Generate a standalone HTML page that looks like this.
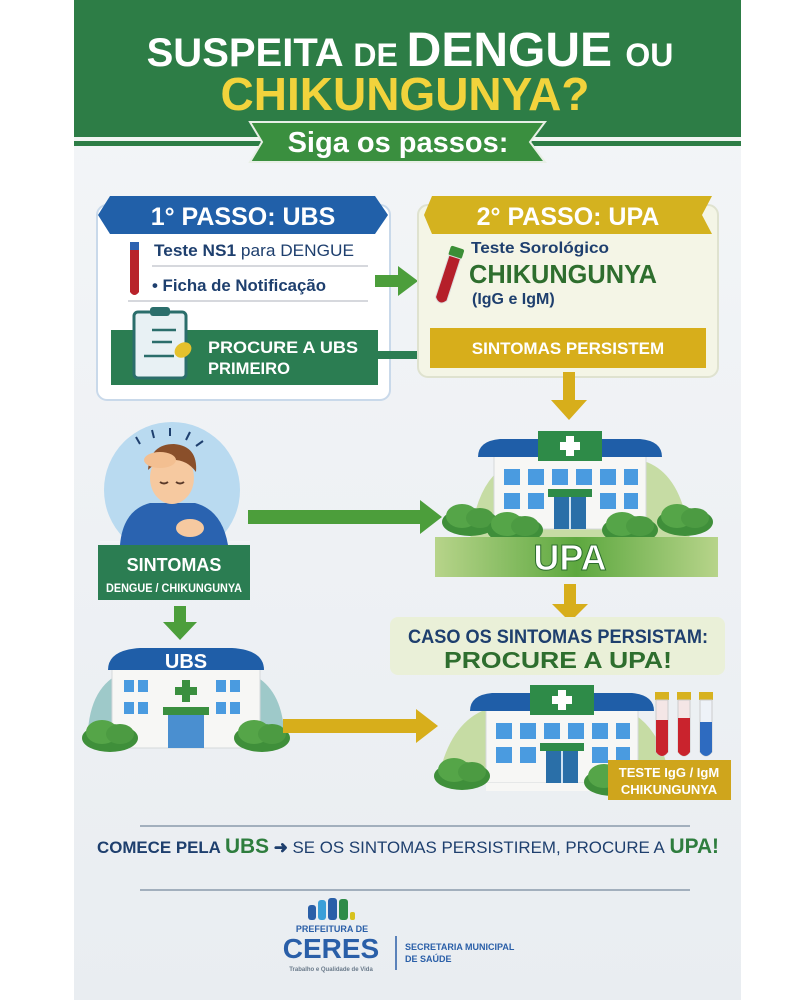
<!DOCTYPE html>
<html><head><meta charset="utf-8"><style>
html,body{margin:0;padding:0;background:#fff;}
svg{display:block;}
text{font-family:"Liberation Sans Narrow","Liberation Sans",sans-serif;font-weight:bold;}
</style></head><body>
<svg width="800" height="1000" viewBox="0 0 800 1000" xmlns="http://www.w3.org/2000/svg">
<defs>
<linearGradient id="bg" x1="0" y1="0" x2="0" y2="1"><stop offset="0" stop-color="#f4f6f8"/><stop offset="1" stop-color="#e9edf1"/></linearGradient>
<linearGradient id="gb" x1="0" y1="0" x2="1" y2="0"><stop offset="0" stop-color="#b7d48a"/><stop offset="0.5" stop-color="#5da83f"/><stop offset="1" stop-color="#b7d48a"/></linearGradient>
<g id="bld">
  <rect x="-76" y="18" width="152" height="80" fill="#f7f7f5" stroke="#d5d8da"/>
  <path d="M-92 26 Q-92 10 -70 8 L70 8 Q92 10 92 26 Z" fill="#1f5ea8"/>
  <rect x="-32" y="0" width="64" height="30" fill="#2e8b48"/>
  <rect x="-4" y="5" width="8" height="20" fill="#fff"/><rect x="-10" y="11" width="20" height="8" fill="#fff"/>
  <g fill="#4a9be0">
    <rect x="-66" y="38" width="16" height="16"/><rect x="-42" y="38" width="16" height="16"/><rect x="-18" y="38" width="16" height="16"/><rect x="6" y="38" width="16" height="16"/><rect x="30" y="38" width="16" height="16"/><rect x="54" y="38" width="14" height="16"/>
    <rect x="-66" y="62" width="16" height="16"/><rect x="-42" y="62" width="16" height="16"/><rect x="30" y="62" width="16" height="16"/><rect x="54" y="62" width="14" height="16"/>
  </g>
  <rect x="-22" y="58" width="44" height="8" fill="#2e8b48"/>
  <rect x="-16" y="66" width="32" height="32" fill="#2a6fa8"/><line x1="0" y1="66" x2="0" y2="98" stroke="#cfe3f3" stroke-width="2"/>
</g>
<g id="bush"><ellipse cx="0" cy="0" rx="28" ry="14" fill="#3f8f3a"/><ellipse cx="-8" cy="-6" rx="16" ry="12" fill="#55a548"/><ellipse cx="10" cy="-4" rx="14" ry="10" fill="#4c9b42"/></g>
</defs>
<rect width="800" height="1000" fill="#fff"/>
<rect x="74" y="0" width="667" height="1000" fill="url(#bg)"/>
<rect x="74" y="0" width="667" height="137" fill="#2d7d46"/>
<rect x="74" y="137" width="667" height="4" fill="#f2f5f3"/>
<rect x="74" y="141" width="667" height="5" fill="#2d7d46"/>
<text x="410" y="66" text-anchor="middle" fill="#fff" font-size="40"><tspan>SUSPEITA </tspan><tspan font-size="32">DE </tspan><tspan font-size="48">DENGUE </tspan><tspan font-size="32">OU</tspan></text>
<text x="405" y="110" text-anchor="middle" fill="#f2d33c" font-size="46">CHIKUNGUNYA?</text>
<path d="M250 122 L545 122 L530 142 L545 162 L250 162 L262 142 Z" fill="#3a8f3f" stroke="#e8efe6" stroke-width="2"/>
<text x="398" y="152" text-anchor="middle" fill="#fff" font-size="29">Siga os passos:</text>

<rect x="97" y="205" width="293" height="195" rx="10" fill="#fff" stroke="#c9d9ea" stroke-width="2"/>
<path d="M110 196 L375 196 L388 215 L375 234 L110 234 L98 215 Z" fill="#2160a9"/>
<text x="243" y="225" text-anchor="middle" fill="#fff" font-size="25">1° PASSO: UBS</text>
<rect x="130" y="242" width="9" height="8" fill="#2d62b0"/>
<path d="M130 250 L139 250 L139 292 Q134.5 298 130 292 Z" fill="#b8232b"/>
<text x="154" y="256" fill="#1e3f6e" font-size="17" textLength="200" lengthAdjust="spacingAndGlyphs">Teste NS1 <tspan font-weight="normal">para DENGUE</tspan></text>
<line x1="152" y1="266" x2="368" y2="266" stroke="#c8ccd2" stroke-width="1.5"/>
<text x="152" y="291" fill="#1e3f6e" font-size="17" font-weight="normal" textLength="174" lengthAdjust="spacingAndGlyphs">• Ficha de Notificação</text>
<line x1="128" y1="301" x2="368" y2="301" stroke="#c8ccd2" stroke-width="1.5"/>
<rect x="111" y="330" width="267" height="55" fill="#2b7d52"/>
<rect x="134" y="312" width="52" height="66" rx="4" fill="#e8f1f4" stroke="#2b6e6b" stroke-width="3"/>
<rect x="150" y="307" width="20" height="9" rx="3" fill="#2b6e6b"/>
<g stroke="#2b6e6b" stroke-width="2.5"><line x1="152" y1="330" x2="176" y2="330"/><line x1="152" y1="342" x2="172" y2="342"/><line x1="144" y1="356" x2="174" y2="356"/></g>
<ellipse cx="183" cy="350" rx="9" ry="7" fill="#e5c12c" transform="rotate(-35 183 350)"/>
<text x="208" y="353" fill="#fff" font-size="17" textLength="150" lengthAdjust="spacingAndGlyphs">PROCURE A UBS</text>
<text x="208" y="374" fill="#fff" font-size="17" textLength="82" lengthAdjust="spacingAndGlyphs">PRIMEIRO</text>
<rect x="378" y="351" width="42" height="8" fill="#2b7d52"/>
<path d="M375 275 L398 275 L398 266 L418 281 L398 296 L398 287 L375 287 Z" fill="#4c9e3b"/>

<rect x="418" y="205" width="300" height="172" rx="10" fill="#f4f5e6" stroke="#dfe2cf" stroke-width="2"/>
<path d="M432 196 L712 196 L702 215 L712 234 L432 234 L424 215 Z" fill="#d4b21f"/>
<text x="568" y="225" text-anchor="middle" fill="#fff" font-size="25">2° PASSO: UPA</text>
<g transform="rotate(18 448 278)">
<rect x="441" y="246" width="14" height="10" rx="2" fill="#3b8e36"/>
<path d="M442 256 L454 256 L454 300 Q448 308 442 300 Z" fill="#b51f2a" stroke="#ddd" stroke-width="1"/>
</g>
<text x="471" y="253" fill="#1e3f6e" font-size="16" font-weight="normal" textLength="138" lengthAdjust="spacingAndGlyphs">Teste Sorológico</text>
<text x="469" y="283" fill="#2e6e2e" font-size="26" textLength="188" lengthAdjust="spacingAndGlyphs">CHIKUNGUNYA</text>
<text x="472" y="304" fill="#1e3f6e" font-size="16" font-weight="normal">(IgG e IgM)</text>
<rect x="430" y="328" width="276" height="40" fill="#d7ae1b"/>
<text x="568" y="354" text-anchor="middle" fill="#fff" font-size="17">SINTOMAS PERSISTEM</text>
<path d="M563 372 L575 372 L575 400 L587 400 L569 420 L551 400 L563 400 Z" fill="#d7ae1b"/>

<!-- boy -->
<circle cx="172" cy="490" r="68" fill="#b9daf0"/>
<rect x="100" y="541" width="150" height="6" fill="url(#bg)"/>
<path d="M120 545 Q123 510 150 503 L195 503 Q222 510 228 545 Z" fill="#2a63b0"/>
<ellipse cx="172" cy="478" rx="22" ry="26" fill="#f6c9a0"/>
<path d="M148 470 Q150 444 174 444 Q198 446 196 472 Q186 458 168 460 Q156 462 148 470Z" fill="#8a4f2a"/>
<ellipse cx="160" cy="460" rx="16" ry="8" fill="#f3bf91"/>
<path d="M160 482 q4 3 8 0 M176 482 q4 3 8 0" stroke="#5a3a2a" stroke-width="2" fill="none"/>
<ellipse cx="190" cy="528" rx="14" ry="9" fill="#f6c9a0"/>
<g stroke="#1e3f6e" stroke-width="2"><line x1="136" y1="437" x2="140" y2="444"/><line x1="152" y1="430" x2="154" y2="438"/><line x1="170" y1="428" x2="170" y2="436"/><line x1="190" y1="432" x2="186" y2="440"/><line x1="203" y1="441" x2="196" y2="446"/></g>
<rect x="98" y="545" width="152" height="55" fill="#2b7d52"/>
<text x="174" y="571" text-anchor="middle" fill="#fff" font-size="18">SINTOMAS</text>
<text x="174" y="592" text-anchor="middle" fill="#fff" font-size="12" textLength="136" lengthAdjust="spacingAndGlyphs">DENGUE / CHIKUNGUNYA</text>
<path d="M248 510 L420 510 L420 500 L442 517 L420 534 L420 524 L248 524 Z" fill="#4c9e3b"/>
<path d="M174 606 L186 606 L186 622 L197 622 L180 640 L163 622 L174 622 Z" fill="#4c9e3b"/>

<path d="M470 540 Q478 470 520 460 L640 460 Q682 470 690 540Z" fill="#c6dca4"/>
<use href="#bld" x="570" y="431"/>
<use href="#bush" x="470" y="522"/><use href="#bush" x="515" y="530"/><use href="#bush" x="630" y="530"/><use href="#bush" x="685" y="522"/>
<rect x="435" y="537" width="283" height="40" fill="url(#gb)"/>
<text x="570" y="570" text-anchor="middle" fill="#fff" font-size="36" stroke="#2d6e2d" stroke-width="1">UPA</text>
<path d="M564 584 L576 584 L576 604 L588 604 L570 622 L552 604 L564 604 Z" fill="#d7ae1b"/>
<rect x="390" y="617" width="335" height="58" rx="8" fill="#eaf0d8"/>
<text x="558" y="643" text-anchor="middle" fill="#1e3f6e" font-size="19" textLength="300" lengthAdjust="spacingAndGlyphs">CASO OS SINTOMAS PERSISTAM:</text>
<text x="558" y="668" text-anchor="middle" fill="#2e6e2e" font-size="23" textLength="228" lengthAdjust="spacingAndGlyphs">PROCURE A UPA!</text>

<path d="M88 730 Q92 680 130 670 L240 670 Q280 680 284 730Z" fill="#9ec9c9"/>
<rect x="112" y="668" width="148" height="80" fill="#f7f7f5" stroke="#d5d8da"/>
<path d="M108 670 Q108 650 140 648 L232 648 Q264 650 264 670 Z" fill="#1f5ea8"/>
<text x="186" y="668" text-anchor="middle" fill="#fff" font-size="20">UBS</text>
<g fill="#4a9be0"><rect x="124" y="680" width="10" height="12"/><rect x="138" y="680" width="10" height="12"/><rect x="216" y="680" width="10" height="12"/><rect x="230" y="680" width="10" height="12"/><rect x="124" y="702" width="10" height="12"/><rect x="138" y="702" width="10" height="12"/><rect x="216" y="702" width="10" height="12"/><rect x="230" y="702" width="10" height="12"/></g>
<rect x="182" y="680" width="8" height="22" fill="#3a8f3f"/><rect x="175" y="687" width="22" height="8" fill="#3a8f3f"/>
<rect x="163" y="707" width="46" height="8" fill="#3a8f3f"/>
<rect x="168" y="715" width="36" height="33" fill="#4a8fd0"/>
<use href="#bush" x="110" y="738"/><use href="#bush" x="262" y="738"/>
<path d="M283 719 L416 719 L416 709 L438 726 L416 743 L416 733 L283 733 Z" fill="#d7ae1b"/>

<path d="M438 780 Q450 720 490 708 L620 708 Q660 720 670 780Z" fill="#c6dca4"/>
<use href="#bld" x="562" y="685"/>
<rect x="486" y="783" width="152" height="8" fill="#f7f7f5"/>
<use href="#bush" x="462" y="776"/><use href="#bush" x="612" y="782"/>
<g>
<rect x="655" y="692" width="14" height="8" fill="#d7b21f"/><path d="M656 700 L668 700 L668 752 Q662 760 656 752Z" fill="#f4e6e6" stroke="#ccc"/><path d="M656 720 L668 720 L668 752 Q662 760 656 752Z" fill="#c9232d"/>
<rect x="677" y="692" width="14" height="8" fill="#d7b21f"/><path d="M678 700 L690 700 L690 752 Q684 760 678 752Z" fill="#f4e6e6" stroke="#ccc"/><path d="M678 718 L690 718 L690 752 Q684 760 678 752Z" fill="#c9232d"/>
<rect x="699" y="692" width="14" height="8" fill="#d7b21f"/><path d="M700 700 L712 700 L712 752 Q706 760 700 752Z" fill="#eef2f8" stroke="#ccc"/><path d="M700 722 L712 722 L712 752 Q706 760 700 752Z" fill="#2e6bc0"/>
</g>
<rect x="608" y="760" width="123" height="40" fill="#cfa51c"/>
<text x="669" y="777" text-anchor="middle" fill="#fff" font-size="13">TESTE IgG / IgM</text>
<text x="669" y="794" text-anchor="middle" fill="#fff" font-size="13">CHIKUNGUNYA</text>

<line x1="140" y1="826" x2="690" y2="826" stroke="#8a9aab" stroke-width="1.5"/>
<line x1="140" y1="890" x2="690" y2="890" stroke="#8a9aab" stroke-width="1.5"/>
<text x="408" y="853" text-anchor="middle" fill="#1e3f6e" font-size="17" textLength="622" lengthAdjust="spacingAndGlyphs">COMECE PELA <tspan fill="#2e7d3e" font-size="21">UBS</tspan> ➜ <tspan font-weight="normal">SE OS SINTOMAS PERSISTIREM, PROCURE A</tspan> <tspan fill="#2e7d3e" font-size="21">UPA!</tspan></text>

<g>
<rect x="308" y="905" width="8" height="15" rx="3" fill="#2a5fa8"/>
<rect x="318" y="900" width="8" height="20" rx="3" fill="#3a9fd8"/>
<rect x="328" y="898" width="9" height="22" rx="3" fill="#2a5fa8"/>
<rect x="339" y="899" width="9" height="21" rx="3" fill="#2e8b48"/>
<rect x="350" y="912" width="5" height="8" rx="2" fill="#d7c21f"/>
<text x="332" y="932" text-anchor="middle" fill="#2a5fa8" font-size="9">PREFEITURA DE</text>
<text x="331" y="958" text-anchor="middle" fill="#2a5fa8" font-size="28" font-weight="normal">CERES</text>
<text x="331" y="971" text-anchor="middle" fill="#6a7a8a" font-size="6" font-weight="normal">Trabalho e Qualidade de Vida</text>
<line x1="396" y1="936" x2="396" y2="970" stroke="#2a5fa8" stroke-width="1.5"/>
<text x="405" y="950" fill="#2a5fa8" font-size="9">SECRETARIA MUNICIPAL</text>
<text x="405" y="962" fill="#2a5fa8" font-size="9">DE SAÚDE</text>
</g>
</svg>
</body></html>
